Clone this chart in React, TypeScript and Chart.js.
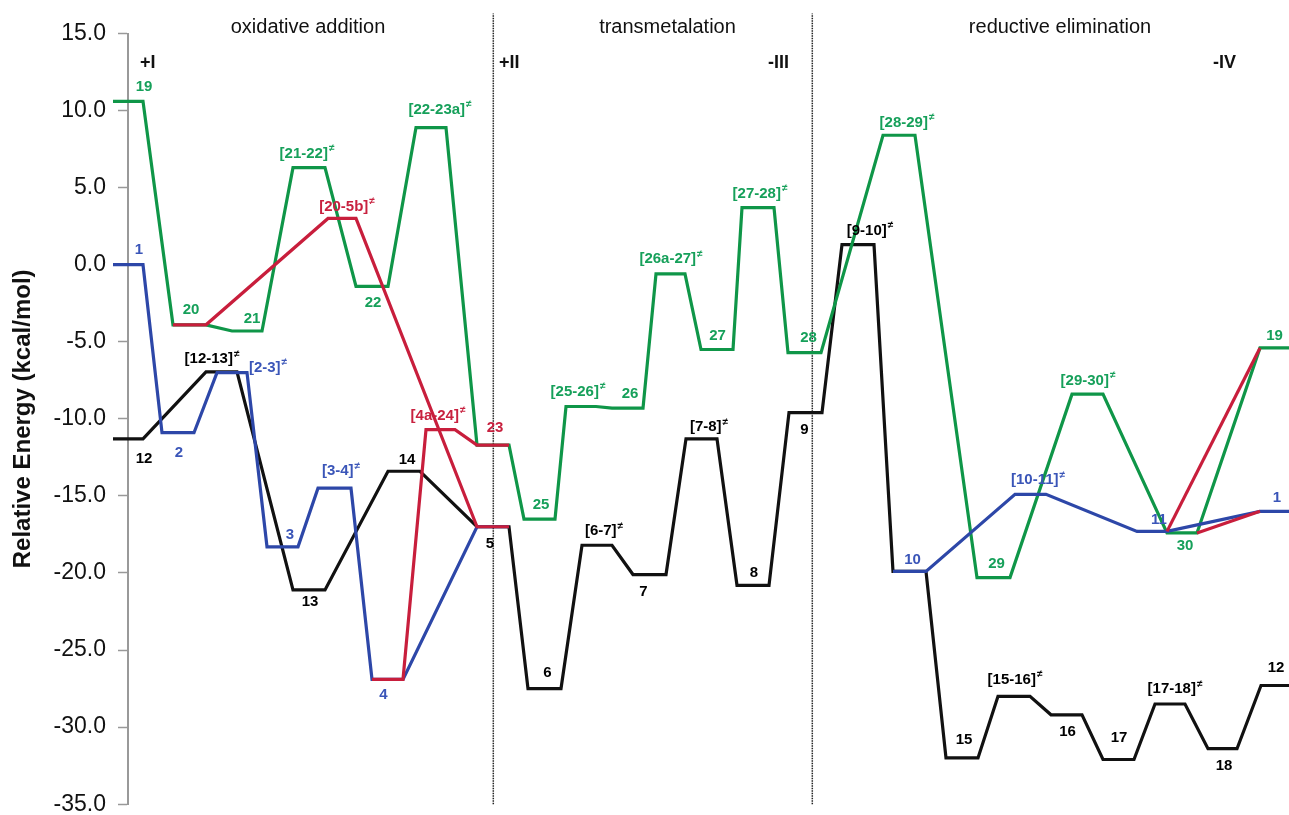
import React, { useEffect, useRef } from "react";
import { Chart, registerables } from "chart.js";

Chart.register(...registerables);

const FONT = "'Liberation Sans', Arial, Helvetica, sans-serif";

// ---------------- DATA ----------------
// Reaction coordinate: start / end of each level (x), relative energies (kcal/mol)

// Black pathway
const blackNames = ["12", "[12-13]≠", "13", "14", "5", "6", "[6-7]≠", "7", "[7-8]≠", "8", "9", "[9-10]≠", "10", "15", "[15-16]≠", "16", "17", "[17-18]≠", "18", "12"];
const blackStart = [-15, 78, 165, 260, 349, 400, 454, 505, 558, 609, 661, 714, 765, 818, 870, 923, 975, 1027, 1080, 1133];
const blackEnd = [15, 109, 197, 292, 381, 433, 484, 538, 589, 641, 694, 746, 798, 850, 902, 954, 1006, 1057, 1109, 1161];
const blackEnergy = [-11.3, -6.95, -21.1, -13.4, -17.0, -27.5, -18.2, -20.1, -11.3, -20.8, -9.6, 1.3, -19.9, -32.0, -28.0, -29.2, -32.1, -28.5, -31.4, -27.3];

// Green pathway
const greenNames = ["19", "20", "21", "[21-22]≠", "22", "[22-23a]≠", "23", "25", "[25-26]≠", "26", "[26a-27]≠", "27", "[27-28]≠", "28", "[28-29]≠", "29", "[29-30]≠", "30", "19"];
const greenStart = [-15, 45, 104, 165, 228, 288, 349, 396, 438, 484, 528, 573, 614, 660, 755, 849, 944, 1039, 1132];
const greenEnd = [15, 78, 134, 197, 260, 318, 381, 427, 468, 515, 557, 605, 646, 693, 787, 882, 975, 1069, 1161];
const greenEnergy = [10.6, -3.9, -4.3, 6.3, -1.4, 8.9, -11.7, -16.5, -9.2, -9.3, -0.6, -5.5, 3.7, -5.7, 8.4, -20.3, -8.4, -17.4, -5.4];

// Blue pathway (two parts)
const blueANames = ["1", "2", "[2-3]≠", "3", "[3-4]≠", "4", "5"];
const blueAStart = [-15, 34, 89, 139, 190, 244, 349];
const blueAEnd = [15, 66, 119, 170, 223, 275, 381];
const blueAEnergy = [0.0, -10.9, -7.0, -18.3, -14.5, -26.9, -17.0];

const blueBNames = ["10", "[10-11]≠", "11", "1"];
const blueBStart = [765, 887, 1009, 1132];
const blueBEnd = [798, 918, 1039, 1161];
const blueBEnergy = [-19.9, -14.9, -17.3, -16.0];

// Red pathway (several parts)
const redANames = ["20", "[20-5b]≠", "5"];
const redAStart = [45, 200, 349];
const redAEnd = [78, 228, 381];
const redAEnergy = [-3.9, 3.0, -17.0];

const redBNames = ["4", "[4a-24]≠", "23"];
const redBStart = [244, 298, 349];
const redBEnd = [275, 327, 381];
const redBEnergy = [-26.9, -10.7, -11.7];

const redCNames = ["11", "19"];
const redCStart = [1039, 1132];
const redCEnd = [1039, 1132];
const redCEnergy = [-17.3, -5.4];

const redDNames = ["30", "1"];
const redDStart = [1069, 1132];
const redDEnd = [1069, 1132];
const redDEnergy = [-17.4, -16.0];

// Section dividers, titles and oxidation-state marks
const dividerX = [365.3, 684.3];
const sectionTitles = ["oxidative addition", "transmetalation", "reductive elimination"];
const sectionCenterX = [180, 539.5, 932];
const stageMarks = ["+I", "+II", "-III", "-IV"];
const stageMarkX = [12, 371, 640, 1085];

// y axis
const yMin = -35;
const yMax = 15;
const yStep = 5;

// ---------------- LABEL LAYOUT (pixel offsets from level centre; null = no label) ----------------
const blackLabelOffsets: ([number, number] | null)[] = [
  [16, 20], [-9.5, -12.7], [1, 12], [3, -11], [-3, 17], [3, -15.7], [7, -14], [-6, 17], [7.5, -11.7], [1, -12.7],
  [-1, 16.7], [12, -14.3], null, [2, -18.3], [1, -16.7], [1, 16.6], [0.5, -21.7], [5, -14.7], [1.5, 16.7], [1, -18],
];
const greenLabelOffsets: ([number, number] | null)[] = [
  [16, -14.4], [1.5, -15], [5, -12], [-2, -14], [1, 17], [9, -18], null, [1.5, -14.3], [-3, -15], [2.5, -14.3],
  [0.5, -15], [0.5, -13.3], [2, -14], [4, -14.7], [8, -12.7], [3, -14], [0.5, -13.6], [3, 12.5], [0, -12],
];
const blueALabelOffsets: ([number, number] | null)[] = [[11, -15], [1, 20], [36, -5], [7.5, -12], [6.5, -17], [-4, 16], null];
const blueBLabelOffsets: ([number, number] | null)[] = [[3, -11.6], [7.5, -14.3], [7, -11.6], [2.5, -13.4]];
const redALabelOffsets: ([number, number] | null)[] = [null, [5, -12], null];
const redBLabelOffsets: ([number, number] | null)[] = [null, [-2.5, -14], [2, -17]];
const redCLabelOffsets: ([number, number] | null)[] = [null, null];
const redDLabelOffsets: ([number, number] | null)[] = [null, null];

const BLACK = "#111111";
const GREEN = "#0f9648";
const BLUE = "#2d47a8";
const RED = "#c81e3c";
const GREEN_TXT = "#16a05a";
const BLUE_TXT = "#3a55b8";
const RED_TXT = "#c8213f";

type Path = {
  names: string[];
  start: number[];
  end: number[];
  energy: number[];
  offsets: ([number, number] | null)[];
  color: string;
  textColor: string;
  order: number;
};

const paths: Path[] = [
  { names: blackNames, start: blackStart, end: blackEnd, energy: blackEnergy, offsets: blackLabelOffsets, color: BLACK, textColor: "#000", order: 4 },
  { names: greenNames, start: greenStart, end: greenEnd, energy: greenEnergy, offsets: greenLabelOffsets, color: GREEN, textColor: GREEN_TXT, order: 3 },
  { names: blueANames, start: blueAStart, end: blueAEnd, energy: blueAEnergy, offsets: blueALabelOffsets, color: BLUE, textColor: BLUE_TXT, order: 2 },
  { names: blueBNames, start: blueBStart, end: blueBEnd, energy: blueBEnergy, offsets: blueBLabelOffsets, color: BLUE, textColor: BLUE_TXT, order: 2 },
  { names: redANames, start: redAStart, end: redAEnd, energy: redAEnergy, offsets: redALabelOffsets, color: RED, textColor: RED_TXT, order: 1 },
  { names: redBNames, start: redBStart, end: redBEnd, energy: redBEnergy, offsets: redBLabelOffsets, color: RED, textColor: RED_TXT, order: 1 },
  { names: redCNames, start: redCStart, end: redCEnd, energy: redCEnergy, offsets: redCLabelOffsets, color: RED, textColor: RED_TXT, order: 1 },
  { names: redDNames, start: redDStart, end: redDEnd, energy: redDEnergy, offsets: redDLabelOffsets, color: RED, textColor: RED_TXT, order: 1 },
];

function pathPoints(p: Path) {
  const pts: { x: number; y: number }[] = [];
  p.energy.forEach((e, i) => {
    pts.push({ x: p.start[i], y: e });
    if (p.end[i] !== p.start[i]) pts.push({ x: p.end[i], y: e });
  });
  return pts;
}

function drawLabel(ctx: CanvasRenderingContext2D, text: string, cx: number, cy: number, color: string) {
  const hasTS = text.endsWith("≠");
  const main = hasTS ? text.slice(0, -1) : text;
  ctx.save();
  ctx.fillStyle = color;
  ctx.textBaseline = "middle";
  ctx.textAlign = "left";
  ctx.font = `bold 15px ${FONT}`;
  const w1 = ctx.measureText(main).width;
  let w2 = 0;
  if (hasTS) {
    ctx.font = `bold 10px ${FONT}`;
    w2 = ctx.measureText("≠").width + 1;
  }
  const x0 = cx - (w1 + w2) / 2;
  ctx.font = `bold 15px ${FONT}`;
  ctx.fillText(main, x0, cy);
  if (hasTS) {
    ctx.font = `bold 10px ${FONT}`;
    ctx.fillText("≠", x0 + w1 + 1, cy - 5);
  }
  ctx.restore();
}

const annotationPlugin = {
  id: "energyAnnotations",
  afterDatasetsDraw(chart: any) {
    const { ctx, scales, chartArea } = chart;
    const xs = scales.x;
    const ys = scales.y;
    // state labels
    paths.forEach((p) => {
      p.names.forEach((name, i) => {
        const off = p.offsets[i];
        if (!off) return;
        const cx = (xs.getPixelForValue(p.start[i]) + xs.getPixelForValue(p.end[i])) / 2;
        const cy = ys.getPixelForValue(p.energy[i]);
        drawLabel(ctx, name, cx + off[0], cy + off[1], p.textColor);
      });
    });
    // section titles
    ctx.save();
    ctx.fillStyle = "#111";
    ctx.textBaseline = "middle";
    ctx.textAlign = "center";
    ctx.font = `20px ${FONT}`;
    sectionTitles.forEach((t, i) => {
      ctx.fillText(t, xs.getPixelForValue(sectionCenterX[i]), chartArea.top - 6.5);
    });
    ctx.textAlign = "left";
    ctx.font = `bold 18px ${FONT}`;
    stageMarks.forEach((t, i) => {
      ctx.fillText(t, xs.getPixelForValue(stageMarkX[i]), chartArea.top + 29.5);
    });
    ctx.restore();
  },
};

export default function App() {
  const canvasRef = useRef<HTMLCanvasElement | null>(null);

  useEffect(() => {
    if (!canvasRef.current) return;
    const datasets: any[] = [];
    dividerX.forEach((x) => {
      datasets.push({
        data: [{ x, y: yMin }, { x, y: 16.3 }],
        borderColor: "#222",
        borderWidth: 1.5,
        borderDash: [1.5, 1],
        pointRadius: 0,
        clip: false,
        order: 6,
      });
    });
    paths.forEach((p) => {
      datasets.push({
        data: pathPoints(p),
        borderColor: p.color,
        borderWidth: 3.2,
        pointRadius: 0,
        tension: 0,
        clip: false,
        order: p.order,
        borderJoinStyle: "miter",
      });
    });

    const chart = new Chart(canvasRef.current, {
      type: "line",
      data: { datasets },
      options: {
        animation: false,
        responsive: false,
        maintainAspectRatio: false,
        events: [],
        layout: { padding: { top: 33.5, bottom: 24, left: 0, right: 0 } },
        plugins: { legend: { display: false }, tooltip: { enabled: false } },
        scales: {
          x: { type: "linear", min: 0, max: 1161, display: false },
          y: {
            type: "linear",
            min: yMin,
            max: yMax,
            ticks: {
              stepSize: yStep,
              callback: (v: any) => Number(v).toFixed(1),
              font: { family: FONT, size: 23 },
              color: "#111",
              padding: 12,
            },
            grid: { drawOnChartArea: false, drawTicks: true, tickLength: 10, color: "#999", tickWidth: 1.5 },
            border: { display: true, color: "#999", width: 2 },
            title: {
              display: true,
              text: "Relative Energy (kcal/mol)",
              font: { family: FONT, size: 24, weight: "bold" },
              color: "#111",
              padding: { top: 8.6, bottom: 0 },
            },
            afterFit: (scale: any) => {
              scale.width = 128;
            },
          },
        },
      } as any,
      plugins: [annotationPlugin],
    });
    return () => chart.destroy();
  }, []);

  return (
    <div style={{ position: "absolute", left: 0, top: 0, width: 1289, height: 815, overflow: "hidden", background: "#fff" }}>
      <canvas ref={canvasRef} width={1289} height={830} style={{ width: 1289, height: 830, display: "block" }} />
    </div>
  );
}
